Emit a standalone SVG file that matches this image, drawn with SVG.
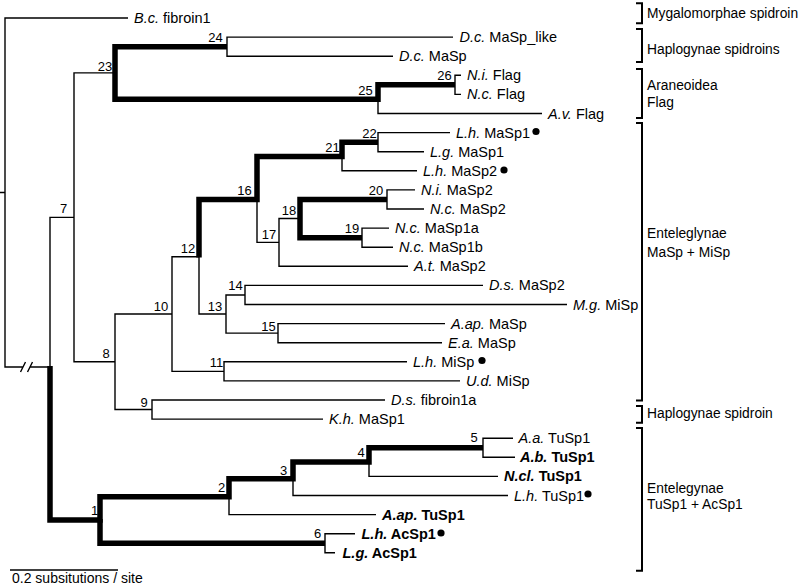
<svg xmlns="http://www.w3.org/2000/svg" width="800" height="586" viewBox="0 0 800 586">
<style>
.t{stroke:#000;stroke-width:1.4;fill:none}
.k{stroke:#000;stroke-width:5.5;fill:none;stroke-linejoin:miter;stroke-linecap:butt}
.br{stroke:#000;stroke-width:2;fill:none}
text{font-family:"Liberation Sans",Arial,Helvetica,sans-serif;fill:#000}
.lf{font-size:14.5px}
.nl{font-size:13px;text-anchor:middle}
.cl{font-size:13.8px}
.i{font-style:italic}
.b{font-weight:bold}
</style>
<rect width="800" height="586" fill="#fff"/>
<g id="connectors">
<path class="t" d="M0,192.5H5M5,192.5V18H128M5,192.5V367H22.5M29.5,367H50M20.5,372L25.5,362M27.5,372L32.5,362"/>
<path class="t" d="M50,367V217.35H74M74,217.35V72.9H115M74,217.35V361.8H115"/>
<path class="t" d="M227,46.65V37.1H453M227,46.65V56.2H393M455,84.85V75.3H461M455,84.85V94.4H461M378,99.2V113.5H542"/>
<path class="t" d="M378,142.15V132.6H450M378,142.15V151.7H424M342,156.5V170.8H417"/>
<path class="t" d="M257,199.45V242.4H279M279,242.4V218.55H300M279,242.4V266.3H408M387,199.45V189.9H415M387,199.45V209H424M362,237.65V228.1H389M362,237.65V247.2H393"/>
<path class="t" d="M115,361.8V314.05H172M115,361.8V409.55H152M172,314.05V256.75H199M172,314.05V371.35H224M199,256.75V314.05H226M226,314.05V294.95H245M226,314.05V333.15H278"/>
<path class="t" d="M245,294.95V285.4H483M245,294.95V304.5H567M278,333.15V323.6H445M278,333.15V342.7H442M224,371.35V361.8H407M224,371.35V380.9H460M152,409.55V400H385M152,409.55V419.1H323"/>
<path class="t" d="M483,447.75V438.2H513M483,447.75V457.3H515M369,462.1V476.4H498M293,478.8V495.5H508M229,496.7V514.6H376M325,543.25V533.7H355M325,543.25V552.8H335"/>
<path class="k" d="M50,366V520H100V496.7H229V478.8H293V462.1H369V447.75H483"/>
<path class="k" d="M100,519V543.25H325"/>
<path class="k" d="M227,46.65H115V99.2H378V84.85H455"/>
<path class="k" d="M199,257.5V199.45H257V156.5H342V142.15H378"/>
<path class="k" d="M387,199.45H300V237.65H362"/>
<path class="br" d="M636,3.3H642V23.3H636M636,29H642V62H636M636,69H642V118H636M636,123H642V400.5H636M636,406H642V422.7H636M636,428H642V570.7H636"/>
<path class="t" d="M10,570H118"/>
</g>
<g id="internal-labels">
<g id="n7"><text class="nl" x="63.5" y="213">7</text></g>
<g id="n23"><text class="nl" x="105" y="71">23</text></g>
<g id="n24"><text class="nl" x="215.5" y="42">24</text></g>
<g id="n25"><text class="nl" x="365.5" y="95">25</text></g>
<g id="n26"><text class="nl" x="444.5" y="80">26</text></g>
<g id="n22"><text class="nl" x="369.5" y="137.5">22</text></g>
<g id="n21"><text class="nl" x="332.5" y="152">21</text></g>
<g id="n16"><text class="nl" x="244.5" y="195">16</text></g>
<g id="n20"><text class="nl" x="376" y="195">20</text></g>
<g id="n18"><text class="nl" x="289" y="215">18</text></g>
<g id="n19"><text class="nl" x="352" y="232.5">19</text></g>
<g id="n17"><text class="nl" x="269" y="239">17</text></g>
<g id="n12"><text class="nl" x="188" y="253">12</text></g>
<g id="n14"><text class="nl" x="235.5" y="289.5">14</text></g>
<g id="n13"><text class="nl" x="215" y="311">13</text></g>
<g id="n10"><text class="nl" x="161" y="311">10</text></g>
<g id="n15"><text class="nl" x="268.5" y="331">15</text></g>
<g id="n8"><text class="nl" x="106" y="358">8</text></g>
<g id="n11"><text class="nl" x="216.5" y="367">11</text></g>
<g id="n9"><text class="nl" x="144" y="407">9</text></g>
<g id="n5"><text class="nl" x="474" y="442">5</text></g>
<g id="n4"><text class="nl" x="361" y="457">4</text></g>
<g id="n3"><text class="nl" x="283.5" y="475">3</text></g>
<g id="n2"><text class="nl" x="221.5" y="492">2</text></g>
<g id="n1"><text class="nl" x="94.5" y="515">1</text></g>
<g id="n6"><text class="nl" x="317.5" y="538">6</text></g>
</g>
<g id="leaves">
<g id="leaf-Bc-fibroin1"><text class="lf" x="134" y="23"><tspan class="i">B.c.</tspan> fibroin1</text></g>
<g id="leaf-Dc-MaSp-like"><text class="lf" x="459.5" y="42.1"><tspan class="i">D.c.</tspan> MaSp_like</text></g>
<g id="leaf-Dc-MaSp"><text class="lf" x="399" y="61.2"><tspan class="i">D.c.</tspan> MaSp</text></g>
<g id="leaf-Ni-Flag"><text class="lf" x="467" y="80.3"><tspan class="i">N.i.</tspan> Flag</text></g>
<g id="leaf-Nc-Flag"><text class="lf" x="467" y="99.4"><tspan class="i">N.c.</tspan> Flag</text></g>
<g id="leaf-Av-Flag"><text class="lf" x="548" y="118.5"><tspan class="i">A.v.</tspan> Flag</text></g>
<g id="leaf-Lh-MaSp1"><text class="lf" x="456" y="137.6"><tspan class="i">L.h.</tspan> MaSp1</text><circle cx="536" cy="131.5" r="3.6"/></g>
<g id="leaf-Lg-MaSp1"><text class="lf" x="430" y="156.7"><tspan class="i">L.g.</tspan> MaSp1</text></g>
<g id="leaf-Lh-MaSp2"><text class="lf" x="423" y="175.8"><tspan class="i">L.h.</tspan> MaSp2</text><circle cx="504" cy="170" r="3.6"/></g>
<g id="leaf-Ni-MaSp2"><text class="lf" x="421" y="194.9"><tspan class="i">N.i.</tspan> MaSp2</text></g>
<g id="leaf-Nc-MaSp2"><text class="lf" x="430" y="214"><tspan class="i">N.c.</tspan> MaSp2</text></g>
<g id="leaf-Nc-MaSp1a"><text class="lf" x="395" y="233.1"><tspan class="i">N.c.</tspan> MaSp1a</text></g>
<g id="leaf-Nc-MaSp1b"><text class="lf" x="399" y="252.2"><tspan class="i">N.c.</tspan> MaSp1b</text></g>
<g id="leaf-At-MaSp2"><text class="lf" x="414" y="271.3"><tspan class="i">A.t.</tspan> MaSp2</text></g>
<g id="leaf-Ds-MaSp2"><text class="lf" x="489" y="290.4"><tspan class="i">D.s.</tspan> MaSp2</text></g>
<g id="leaf-Mg-MiSp"><text class="lf" x="573" y="309.5"><tspan class="i">M.g.</tspan> MiSp</text></g>
<g id="leaf-Aap-MaSp"><text class="lf" x="451" y="328.6"><tspan class="i">A.ap.</tspan> MaSp</text></g>
<g id="leaf-Ea-MaSp"><text class="lf" x="448" y="347.7"><tspan class="i">E.a.</tspan> MaSp</text></g>
<g id="leaf-Lh-MiSp"><text class="lf" x="413" y="366.8"><tspan class="i">L.h.</tspan> MiSp</text><circle cx="482" cy="360.5" r="3.6"/></g>
<g id="leaf-Ud-MiSp"><text class="lf" x="466" y="385.9"><tspan class="i">U.d.</tspan> MiSp</text></g>
<g id="leaf-Ds-fibroin1a"><text class="lf" x="391" y="405"><tspan class="i">D.s.</tspan> fibroin1a</text></g>
<g id="leaf-Kh-MaSp1"><text class="lf" x="329" y="424.1"><tspan class="i">K.h.</tspan> MaSp1</text></g>
<g id="leaf-Aa-TuSp1"><text class="lf" x="518.5" y="443.2"><tspan class="i">A.a.</tspan> TuSp1</text></g>
<g id="leaf-Ab-TuSp1"><text class="lf b" x="520" y="462.3"><tspan class="i">A.b.</tspan> TuSp1</text></g>
<g id="leaf-Ncl-TuSp1"><text class="lf b" x="504" y="481.4"><tspan class="i">N.cl.</tspan> TuSp1</text></g>
<g id="leaf-Lh-TuSp1"><text class="lf" x="514" y="500.5"><tspan class="i">L.h.</tspan> TuSp1</text><circle cx="588" cy="494" r="3.6"/></g>
<g id="leaf-Aap-TuSp1"><text class="lf b" x="382" y="519.6"><tspan class="i">A.ap.</tspan> TuSp1</text></g>
<g id="leaf-Lh-AcSp1"><text class="lf b" x="361.5" y="538.7"><tspan class="i">L.h.</tspan> AcSp1</text><circle cx="441" cy="533" r="3.6"/></g>
<g id="leaf-Lg-AcSp1"><text class="lf b" x="342.5" y="557.8"><tspan class="i">L.g.</tspan> AcSp1</text></g>
</g>
<g id="clades">
<g id="clade-mygalomorphae"><text class="cl" x="647" y="17.5">Mygalomorphae spidroin</text></g>
<g id="clade-haplogynae-1"><text class="cl" x="647" y="54">Haplogynae spidroins</text></g>
<g id="clade-araneoidea"><text class="cl" x="647" y="90">Araneoidea</text><text class="cl" x="647" y="106.7">Flag</text></g>
<g id="clade-enteleglynae"><text class="cl" x="647" y="238">Enteleglynae</text><text class="cl" x="647" y="256.7">MaSp + MiSp</text></g>
<g id="clade-haplogynae-2"><text class="cl" x="647" y="418">Haplogynae spidroin</text></g>
<g id="clade-entelegynae"><text class="cl" x="647" y="493.3">Entelegynae</text><text class="cl" x="647" y="509.3">TuSp1 + AcSp1</text></g>
</g>
<g id="scale"><text class="lf" x="12" y="583" style="font-size:14px">0.2 subsitutions / site</text></g>
</svg>
